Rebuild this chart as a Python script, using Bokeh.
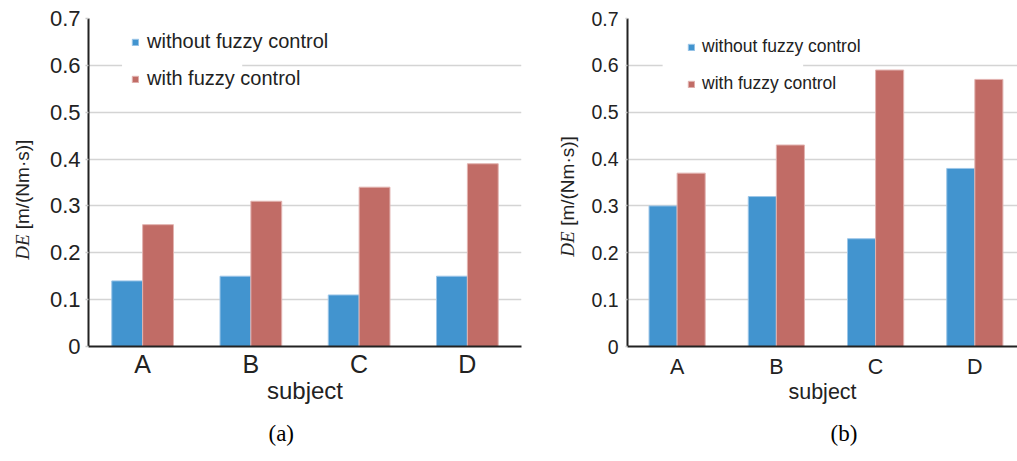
import numpy as np
from bokeh.plotting import figure
from bokeh.layouts import row, column
from bokeh.models import (Range1d, FixedTicker, Legend, LegendItem, BoxAnnotation, Title,
                          Spacer)
from bokeh.embed import file_html
from bokeh.resources import INLINE

# ---------------- data ----------------
subjects = ["A", "B", "C", "D"]
series_names = ["without fuzzy control", "with fuzzy control"]
without_a = [0.14, 0.15, 0.11, 0.15]
with_a = [0.26, 0.31, 0.34, 0.39]
without_b = [0.30, 0.32, 0.23, 0.38]
with_b = [0.37, 0.43, 0.59, 0.57]
y_ticks = [0, 0.1, 0.2, 0.3, 0.4, 0.5, 0.6, 0.7]
y_tick_labels = ["0", "0.1", "0.2", "0.3", "0.4", "0.5", "0.6", "0.7"]
x_title = "subject"
y_title_italic = "DE"
y_title_rest = "[m/(Nm·s)]"
captions = ["(a)", "(b)"]

BLUE = "#4294cf"
RED = "#c16c66"
SANS = "Liberation Sans"
SERIF = "Liberation Serif"
TXT = "#222222"
H = 461


def title_strip(w, h, ml, text, font, style):
    f = figure(width=w, height=h, output_backend="svg", toolbar_location=None,
               x_range=Range1d(0, 1), y_range=Range1d(0, 1), x_axis_location=None,
               min_border_left=ml, min_border_right=0, min_border_top=0,
               min_border_bottom=0)
    f.outline_line_color = None
    f.xgrid.visible = False
    f.ygrid.visible = False
    ax = f.yaxis[0]
    ax.ticker = FixedTicker(ticks=[])
    ax.axis_line_color = None
    ax.major_tick_line_color = None
    ax.minor_tick_line_color = None
    ax.major_tick_out = 0
    ax.major_tick_in = 0
    ax.major_label_standoff = 0
    ax.axis_label = text
    ax.axis_label_standoff = 0
    ax.axis_label_text_font = font
    ax.axis_label_text_font_style = style
    ax.axis_label_text_font_size = "19px"
    ax.axis_label_text_color = TXT
    return f


def ytitle_column(w, ml, top, rest_h, de_h):
    return column(Spacer(width=w, height=top),
                  title_strip(w, rest_h, ml, y_title_rest, SANS, "normal"),
                  title_strip(w, de_h, ml, y_title_italic, SERIF, "italic"),
                  Spacer(width=w, height=H - top - rest_h - de_h))


def panel(vals_without, vals_with, cfg):
    n = len(subjects)
    p = figure(width=cfg["w"], height=H, output_backend="svg", toolbar_location=None,
               x_range=Range1d(0, cfg["xend"]), y_range=Range1d(0, 0.7),
               min_border_left=cfg["bl"], min_border_right=cfg["br"],
               min_border_top=cfg["bt"], min_border_bottom=cfg["bb"])
    p.outline_line_color = None
    p.background_fill_color = "white"
    p.border_fill_color = "white"

    centers = np.arange(n) + 0.5
    bw = cfg["bw"]
    r1 = p.vbar(x=centers - bw / 2, top=vals_without, width=bw, bottom=0,
                fill_color=BLUE, line_color="#9cc6e8", line_width=1)
    r2 = p.vbar(x=centers + bw / 2, top=vals_with, width=bw, bottom=0,
                fill_color=RED, line_color="#e2b3b0", line_width=1)

    p.xgrid.visible = False
    p.ygrid.ticker = FixedTicker(ticks=y_ticks)
    p.ygrid.grid_line_color = "#d4d4d4"
    p.ygrid.grid_line_width = 1.5

    ya = p.yaxis[0]
    ya.ticker = FixedTicker(ticks=y_ticks)
    ya.major_label_overrides = {t: l for t, l in zip(y_ticks, y_tick_labels)}
    ya.axis_line_color = TXT
    ya.axis_line_width = 2
    ya.major_tick_line_color = "#c8c8c8"
    ya.major_tick_line_width = 1.5
    ya.major_tick_in = 0
    ya.major_tick_out = cfg["yto"]
    ya.minor_tick_line_color = None
    ya.major_label_standoff = cfg["yls"]
    ya.major_label_text_font = SANS
    ya.major_label_text_font_size = cfg["yfs"]
    ya.major_label_text_color = TXT

    xa = p.xaxis[0]
    xa.ticker = FixedTicker(ticks=list(centers))
    xa.major_label_overrides = {float(c): s for c, s in zip(centers, subjects)}
    xa.axis_line_color = TXT
    xa.axis_line_width = 2
    xa.major_tick_line_color = None
    xa.minor_tick_line_color = None
    xa.major_tick_in = 0
    xa.major_tick_out = 0
    xa.major_label_standoff = cfg["xls"]
    xa.major_label_text_font = SANS
    xa.major_label_text_font_size = cfg["xfs"]
    xa.major_label_text_color = TXT
    xa.axis_label = x_title
    xa.axis_label_text_font = SANS
    xa.axis_label_text_font_style = "normal"
    xa.axis_label_text_font_size = cfg["xtfs"]
    xa.axis_label_text_color = TXT
    xa.axis_label_standoff = cfg["xts"]

    # white patch behind legend (gap in 0.6 gridline)
    p.add_layout(BoxAnnotation(left=cfg["gap"][0], right=cfg["gap"][1], bottom=0.592,
                               top=0.608, fill_color="white", fill_alpha=1.0,
                               line_color=None))

    legend = Legend(items=[LegendItem(label=series_names[0], renderers=[r1]),
                           LegendItem(label=series_names[1], renderers=[r2])],
                    location=cfg["legloc"], orientation="vertical",
                    glyph_width=8, glyph_height=8, label_height=20, spacing=cfg["lsp"],
                    label_standoff=cfg["lso"], padding=0, margin=0,
                    background_fill_alpha=0, border_line_color=None,
                    label_text_font=SANS, label_text_font_size=cfg["lfs"],
                    label_text_color=TXT)
    p.add_layout(legend)

    # caption below the axis title
    p.add_layout(Title(text=cfg["caption"], align="left", offset=cfg["capoff"],
                       standoff=cfg["capso"], text_font=SERIF, text_font_style="normal",
                       text_font_size="23px", text_color="black"), "below")
    return p


# left block: y-title strip 40 px + plot 508 px ; right block: strip 36 px + plot 433 px
cfg_a = dict(w=508, xend=4.0, bl=48, br=27, bt=18, bb=H - 346, bw=0.285,
             yto=3, yls=5, yfs="22px", xls=3, xfs="25px", xtfs="24px", xts=-4,
             gap=(0.31, 1.42), legloc=(43, 256), lsp=14, lso=8, lfs="20px",
             caption=captions[0], capoff=180, capso=24)
cfg_b = dict(w=433, xend=3.93, bl=43, br=0, bt=17, bb=H - 352, bw=0.283,
             yto=2, yls=7, yfs="19.5px", xls=8, xfs="21.5px", xtfs="21.5px", xts=-2,
             gap=(0.354, 1.77), legloc=(60, 252), lsp=16, lso=7, lfs="17.5px",
             caption=captions[1], capoff=203, capso=24)

yt_a = ytitle_column(40, 32, 136, 96, 29)
pa = panel(without_a, with_a, cfg_a)
yt_b = ytitle_column(36, 29, 132, 97, 29)
pb = panel(without_b, with_b, cfg_b)

layout = row(yt_a, pa, yt_b, pb)
open("out.html", "w").write(file_html(layout, INLINE))
